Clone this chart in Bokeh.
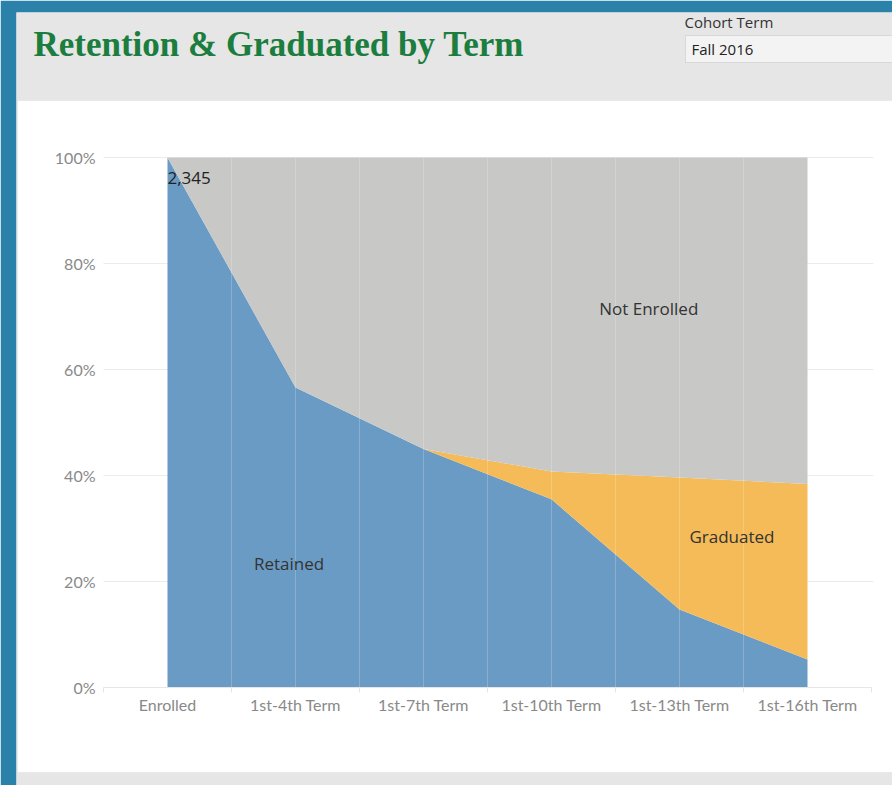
from bokeh.plotting import figure
from bokeh.models import (ColumnDataSource, Range1d, FixedTicker, NumeralTickFormatter,
                          Label, BoxAnnotation)
from bokeh.embed import file_html
from bokeh.resources import INLINE

# ---- data ----
terms = ["Enrolled", "1st-4th Term", "1st-7th Term", "1st-10th Term", "1st-13th Term", "1st-16th Term"]
retained = [1.000, 0.566, 0.450, 0.355, 0.147, 0.053]
graduated = [0.000, 0.000, 0.000, 0.0525, 0.249, 0.331]
not_enrolled = [0.000, 0.434, 0.550, 0.5925, 0.604, 0.616]
cohort_size = "2,345"
y_ticks = [0.0, 0.2, 0.4, 0.6, 0.8, 1.0]
cohort_term = "Fall 2016"

n = len(terms)
xs = list(range(n))
source = ColumnDataSource(dict(x=xs, retained=retained, graduated=graduated,
                               not_enrolled=not_enrolled))

# ---- layout geometry (pixels) ----
W, H = 892, 785
PANEL_L, PANEL_T = 16, 12          # grey dashboard panel (frame)
CH_L, CH_B = 103, 687              # chart left edge (x=-0.5) and baseline (y=0)
COL_W, Y_PX = 128, 530             # px per category, px per 100%


def dx(px):
    return -0.5 + (px - CH_L) / COL_W


def dy(py):
    return (CH_B - py) / Y_PX


p = figure(width=W, height=H, output_backend="svg", toolbar_location=None,
           x_range=Range1d(dx(PANEL_L), dx(W)), y_range=Range1d(dy(H), dy(PANEL_T)),
           min_border_left=PANEL_L, min_border_right=0, min_border_top=PANEL_T, min_border_bottom=0)
p.border_fill_color = "#2a82ab"
p.background_fill_color = "#e6e6e6"
p.outline_line_color = None
p.xgrid.visible = False
p.ygrid.visible = False

# white chart panel and dropdown box
p.add_layout(BoxAnnotation(left=dx(17), right=dx(W + 4), top=dy(100), bottom=dy(772),
                           fill_color="white", fill_alpha=1, line_color="#d3d3d3",
                           line_width=1, level="image"))
p.add_layout(BoxAnnotation(left=dx(685), right=dx(W + 12), top=dy(35), bottom=dy(62),
                           fill_color="#f3f3f3", fill_alpha=1, line_color="#a8a8a8",
                           line_width=1, level="image"))

# horizontal gridlines (behind the areas)
x_lo, x_hi = -0.5, n - 0.5
p.segment(x0=x_lo, x1=x_hi + 0.015, y0=y_ticks[1:], y1=y_ticks[1:], line_color="#ececec", line_width=1)

p.varea_stack(stackers=["retained", "graduated", "not_enrolled"], x="x",
              color=["#6a9bc4", "#f4bb58", "#c8c8c6"], source=source)

# faint column dividers over the areas
dividers = [i + 0.5 * k for i in range(n - 1) for k in (0, 1)][1:]
p.segment(x0=dividers, x1=dividers, y0=0, y1=1, line_color="white", line_alpha=0.2, line_width=1)

# axes inside the frame
p.yaxis.fixed_location = x_lo
p.yaxis.bounds = (0, 1)
p.yaxis.ticker = FixedTicker(ticks=y_ticks)
p.yaxis.formatter = NumeralTickFormatter(format="0%")
p.yaxis.axis_line_color = None
p.yaxis.major_tick_line_color = None
p.yaxis.minor_tick_line_color = None
p.yaxis.major_tick_out = 0
p.yaxis.major_tick_in = 0
p.yaxis.major_label_standoff = 8
p.yaxis.major_label_text_font = "Lato"
p.yaxis.major_label_text_font_size = "16px"
p.yaxis.major_label_text_color = "#898989"

p.xaxis.fixed_location = 0
p.xaxis.bounds = (x_lo, x_hi)
p.xaxis.ticker = FixedTicker(ticks=xs, minor_ticks=[i - 0.5 for i in range(n + 1)])
p.xaxis.major_label_overrides = {i: t for i, t in enumerate(terms)}
p.xaxis.axis_line_color = "#e6e6e6"
p.xaxis.major_tick_line_color = None
p.xaxis.major_tick_out = 0
p.xaxis.major_tick_in = 0
p.xaxis.minor_tick_line_color = "#e6e6e6"
p.xaxis.minor_tick_out = 5
p.xaxis.minor_tick_in = 0
p.xaxis.major_label_standoff = 2
p.xaxis.major_label_text_font = "Lato"
p.xaxis.major_label_text_font_size = "16px"
p.xaxis.major_label_text_color = "#898989"

# area labels
p.add_layout(Label(x=0, y=dy(177), text=cohort_size, text_baseline="middle",
                   text_font="Open Sans", text_font_size="17px", text_color="#222222"))
p.add_layout(Label(x=3.76, y=0.715, text="Not Enrolled", text_align="center", text_baseline="middle",
                   text_font="Open Sans", text_font_size="17px", text_color="#333333"))
p.add_layout(Label(x=4.41, y=0.285, text="Graduated", text_align="center", text_baseline="middle",
                   text_font="Open Sans", text_font_size="17px", text_color="#333333"))
p.add_layout(Label(x=0.95, y=0.234, text="Retained", text_align="center", text_baseline="middle",
                   text_font="Open Sans", text_font_size="17px", text_color="#333333"))

# header
p.add_layout(Label(x=dx(33), y=dy(44), text="Retention & Graduated by Term",
                   text_baseline="middle", text_font="Liberation Serif", text_font_style="bold",
                   text_font_size="35px", text_color="#1b7d3e"))
p.add_layout(Label(x=dx(684), y=dy(21), text="Cohort Term",
                   text_baseline="middle", text_font="Open Sans", text_font_size="15px",
                   text_color="#333333"))
p.add_layout(Label(x=dx(691), y=dy(48), text=cohort_term,
                   text_baseline="middle", text_font="Open Sans", text_font_size="15px",
                   text_color="#222222"))

open("out.html", "w").write(file_html(p, INLINE))
